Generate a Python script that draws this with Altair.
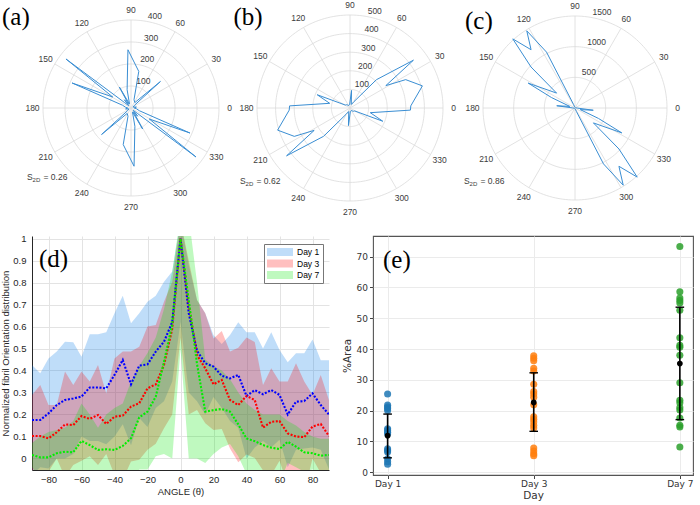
import json

import altair as alt
import pandas as pd

SANS = "Liberation Sans"
SERIF = "Liberation Serif"
MPL = "DejaVu Sans"
INK = "#262626"
POLAR_TXT = "#3c3c3c"
POLAR_GRID = "#dadada"
POLAR_LINE = "#3a8ed3"

# ---------------- (a)-(c): polar fibre-orientation histograms ----------------
# Orientations are axial, so each (theta, r) sample over half a turn is also
# drawn at theta + 180.
A_THETA = [0, 10, 25, 38, 42, 55, 70, 78, 93, 102, 110, 116, 119, 123, 129, 135, 140, 143, 149, 157, 162, 172]
A_R = [15, 25, 10, 20, 180, 30, 40, 170, 265, 85, 20, 40, 109, 20, 48, 15, 40, 370, 97, 291, 40, 25]
B_THETA = [2, 17, 27, 32, 37, 47, 58, 70, 85, 95, 115, 135, 148, 158, 167, 178]
B_R = [327, 407, 336, 227, 427, 208, 40, 20, 95, 20, 15, 25, 30, 190, 112, 325]
C_THETA = [0, 8, 30, 60, 90, 105, 112, 117, 122, 127, 132, 137, 141, 152, 156, 163, 173, 178]
C_R = [40, 15, 10, 10, 15, 20, 60, 1023, 1484, 1190, 1516, 980, 386, 864, 420, 90, 300, 40]
A_RINGS = [100, 200, 300, 400]
B_RINGS = [100, 200, 300, 400, 500]
C_RINGS = [500, 1000, 1500]
S2D_VALUES = [0.26, 0.62, 0.86]
ANGLE_TICKS = list(range(0, 360, 30))

# ---------------- (d): normalised orientation distribution ----------------
DAYS = ["Day 1", "Day 3", "Day 7"]
ANGLE = list(range(-90, 91, 5))
DAY1_MEAN = [0.175, 0.175, 0.205, 0.243, 0.266, 0.273, 0.281, 0.323, 0.323, 0.319,
             0.380, 0.448, 0.337, 0.422, 0.428, 0.486, 0.531, 0.620, 1.000,
             0.660, 0.490, 0.433, 0.418, 0.376, 0.364, 0.380, 0.284, 0.311, 0.292,
             0.311, 0.289, 0.200, 0.258, 0.261, 0.296, 0.243, 0.200]
DAY1_HIGH = [0.425, 0.387, 0.455, 0.486, 0.531, 0.528, 0.463, 0.565, 0.565, 0.574,
             0.660, 0.740, 0.615, 0.660, 0.713, 0.740, 0.804, 0.850, 1.080,
             0.880, 0.720, 0.660, 0.560, 0.520, 0.561, 0.619, 0.574, 0.574, 0.500,
             0.574, 0.493, 0.437, 0.478, 0.478, 0.541, 0.447, 0.447]
DAY1_LOW = [-0.075, -0.040, -0.045, 0.000, 0.000, 0.020, 0.100, 0.080, 0.080, 0.065,
            0.100, 0.156, 0.060, 0.184, 0.143, 0.230, 0.260, 0.350, 0.620,
            0.300, 0.260, 0.200, 0.280, 0.230, 0.170, 0.140, 0.000, 0.050, 0.080,
            0.050, 0.085, -0.040, 0.040, 0.045, 0.050, 0.040, -0.050]
DAY3_MEAN = [0.102, 0.102, 0.092, 0.119, 0.155, 0.152, 0.193, 0.180, 0.198, 0.157,
             0.190, 0.195, 0.236, 0.251, 0.319, 0.337, 0.425, 0.590, 1.000,
             0.700, 0.470, 0.410, 0.337, 0.357, 0.266, 0.243, 0.284, 0.266, 0.140,
             0.167, 0.170, 0.114, 0.100, 0.097, 0.145, 0.157, 0.102]
DAY3_HIGH = [0.289, 0.334, 0.243, 0.243, 0.395, 0.334, 0.395, 0.350, 0.425, 0.296,
             0.455, 0.486, 0.486, 0.508, 0.600, 0.607, 0.713, 0.804, 1.080,
             0.900, 0.720, 0.660, 0.546, 0.580, 0.486, 0.503, 0.550, 0.530, 0.334,
             0.410, 0.350, 0.350, 0.433, 0.350, 0.290, 0.380, 0.265]
DAY3_LOW = [-0.085, -0.130, -0.060, 0.000, -0.085, -0.030, -0.010, 0.010, -0.030, 0.020,
            -0.075, -0.096, -0.014, -0.006, 0.040, 0.067, 0.137, 0.200, 0.550,
            0.200, 0.220, 0.160, 0.130, 0.134, 0.046, -0.017, 0.018, 0.002, -0.054,
            -0.076, -0.010, -0.120, -0.233, -0.156, 0.000, -0.066, -0.061]
DAY7_MEAN = [0.016, 0.005, 0.005, 0.024, 0.031, 0.028, 0.080, 0.061, 0.039, 0.042,
             0.039, 0.057, 0.092, 0.187, 0.213, 0.281, 0.440, 0.610, 1.000,
             0.720, 0.430, 0.213, 0.220, 0.225, 0.213, 0.155, 0.091, 0.079, 0.061,
             0.049, 0.043, 0.076, 0.054, 0.028, 0.024, 0.013, 0.016]
DAY7_HIGH = [0.070, 0.100, 0.120, 0.130, 0.140, 0.170, 0.250, 0.200, 0.140, 0.200,
             0.230, 0.250, 0.350, 0.420, 0.480, 0.550, 0.680, 0.850, 1.100,
             1.100, 0.800, 0.450, 0.420, 0.400, 0.360, 0.300, 0.250, 0.220, 0.200,
             0.200, 0.200, 0.170, 0.150, 0.120, 0.100, 0.090, 0.090]
DAY7_LOW = [-0.040, -0.090, -0.110, -0.080, -0.080, -0.110, -0.090, -0.080, -0.060, -0.120,
            -0.150, -0.140, -0.170, -0.050, -0.050, 0.010, 0.020, 0.000, 0.500,
            0.000, 0.000, -0.020, 0.020, 0.050, 0.066, 0.010, -0.070, -0.060, -0.080,
            -0.100, -0.110, -0.020, -0.040, -0.060, -0.050, -0.060, -0.060]
D_XTICKS = [-80, -60, -40, -20, 0, 20, 40, 60, 80]
D_YTICKS = [0, 0.1, 0.2, 0.3, 0.4, 0.5, 0.6, 0.7, 0.8, 0.9, 1]
BAND_COLORS = ["#0078e6", "#ff0000", "#00e600"]
LINE_COLORS = ["#0000ff", "#ff0000", "#00ee00"]

# ---------------- (e): collagen %Area per day ----------------
AREA_DAY1 = [25.4, 21.8, 21.2, 20.7, 20.1, 14.1, 13.6, 13.0, 12.4, 7.6, 7.1, 6.6, 4.4, 3.4, 2.6]
AREA_DAY3 = [37.8, 37.0, 36.2, 33.8, 32.9, 28.6, 26.2, 25.4, 24.4, 21.9, 18.0, 17.2, 16.3,
             15.3, 14.4, 7.9, 6.9, 6.0, 5.4]
AREA_DAY7 = [73.3, 58.6, 56.6, 55.8, 55.0, 52.6, 43.7, 41.2, 40.6, 38.0, 29.1, 23.4, 22.6,
             21.0, 20.2, 17.6, 15.3, 14.7, 8.2]
AREA_MEAN = [11.9, 22.7, 35.3]
AREA_SD_LOW = [4.7, 13.3, 17.1]
AREA_SD_HIGH = [18.9, 32.3, 53.6]
E_YTICKS = [0, 10, 20, 30, 40, 50, 60, 70]
E_COLORS = ["#1f77b4", "#ff7f0e", "#2ca02c"]

# ---------------- layout (pixels) ----------------
LEFT = 32          # room taken by the y axis of panel (d)
TOP_H = 225        # height of the polar row
POLAR_CY = 108     # vertical centre of the polar plots
ROW_GAP = 8
D_W, D_H = 297, 234
E_W, E_H = 320, 239
BOTTOM_GAP = 12


def polar_panel(theta, r, rings, s2d, tag, x0, x1, cx, k, tag_at, s2d_at):
    """Polar line plot drawn on a cartesian x/y scale (k = pixels per unit r)."""
    w, h, cy = x1 - x0, TOP_H, POLAR_CY
    cxr = cx - x0
    xs = alt.Scale(domain=[-cxr / k, (w - cxr) / k], nice=False, zero=False)
    ys = alt.Scale(domain=[-(h - cy) / k, cy / k], nice=False, zero=False)

    def X(f):
        return alt.X(f, type="quantitative", scale=xs, axis=None)

    def Y(f):
        return alt.Y(f, type="quantitative", scale=ys, axis=None)

    rad = "PI/180"
    rmax = rings[-1]

    circles = (
        alt.Chart(alt.sequence(0, 362, 2, as_="t"))
        .transform_calculate(ring=json.dumps(rings))
        .transform_flatten(["ring"])
        .transform_calculate(px=f"datum.ring*cos(datum.t*{rad})",
                             py=f"datum.ring*sin(datum.t*{rad})")
        .mark_line(stroke=POLAR_GRID, strokeWidth=0.8)
        .encode(X("px"), Y("py"), detail="ring:N", order="t:Q")
    )

    spoke_df = pd.DataFrame({"deg": ANGLE_TICKS})
    spokes = (
        alt.Chart(spoke_df)
        .transform_calculate(o="0", px=f"{rmax}*cos(datum.deg*{rad})",
                             py=f"{rmax}*sin(datum.deg*{rad})")
        .mark_rule(stroke=POLAR_GRID, strokeWidth=0.8)
        .encode(x=X("o"), y=Y("o"), x2=alt.X2("px"), y2=alt.Y2("py"))
    )

    lab_r = rmax + 10.5 / k
    angle_labels = (
        alt.Chart(spoke_df)
        .transform_calculate(px=f"{lab_r}*cos(datum.deg*{rad})",
                             py=f"{lab_r}*sin(datum.deg*{rad})")
        .mark_text(font=SANS, fontSize=8.5, color=POLAR_TXT)
        .encode(X("px"), Y("py"), text="deg:N")
    )

    ring_labels = (
        alt.Chart(pd.DataFrame({"ring": rings}))
        .transform_calculate(px=f"datum.ring*cos(80*{rad})", py=f"datum.ring*sin(80*{rad})")
        .mark_text(font=SANS, fontSize=8.5, color=POLAR_TXT, align="left",
                   baseline="bottom", dx=1.5, dy=-0.5)
        .encode(X("px"), Y("py"), text="ring:N")
    )

    path = pd.DataFrame({
        "theta": theta + [t + 180 for t in theta] + [theta[0] + 360],
        "r": r + r + [r[0]],
    })
    path["step"] = range(len(path))
    curve = (
        alt.Chart(path)
        .transform_calculate(px=f"datum.r*cos(datum.theta*{rad})",
                             py=f"datum.r*sin(datum.theta*{rad})")
        .mark_line(color=POLAR_LINE, strokeWidth=1)
        .encode(X("px"), Y("py"), order="step:Q")
    )

    sx, sy = s2d_at[0] - x0, s2d_at[1]
    s_df = pd.DataFrame({"s": ["S"], "sub": ["2D"], "val": [f"= {s2d:.2f}"]})
    s_main = alt.Chart(s_df).mark_text(font=SANS, fontSize=8.5, color=POLAR_TXT, align="left").encode(
        x=alt.value(sx), y=alt.value(sy), text="s:N")
    s_sub = alt.Chart(s_df).mark_text(font=SANS, fontSize=6, color=POLAR_TXT, align="left").encode(
        x=alt.value(sx + 5.6), y=alt.value(sy + 3), text="sub:N")
    s_val = alt.Chart(s_df).mark_text(font=SANS, fontSize=8.5, color=POLAR_TXT, align="left").encode(
        x=alt.value(sx + 16.5), y=alt.value(sy), text="val:N")

    tag_mark = alt.Chart(pd.DataFrame({"tag": [tag]})).mark_text(
        font=SERIF, fontSize=25, color="black", align="left", baseline="alphabetic"
    ).encode(x=alt.value(tag_at[0] - x0), y=alt.value(tag_at[1]), text="tag:N")

    return alt.layer(circles, spokes, angle_labels, ring_labels, curve,
                     s_main, s_sub, s_val, tag_mark).properties(width=w, height=h)


panel_a = polar_panel(A_THETA, A_R, A_RINGS, S2D_VALUES[0], "(a)", LEFT, 232, 131, 88 / 400,
                      (2, 24.5), (27, 177))
panel_b = polar_panel(B_THETA, B_R, B_RINGS, S2D_VALUES[1], "(b)", 232, 460, 350, 93 / 500,
                      (233.5, 25), (240, 181))
panel_c = polar_panel(C_THETA, C_R, C_RINGS, S2D_VALUES[2], "(c)", 460, 700, 575, 92 / 1500,
                      (465, 28.5), (464, 181))

# ---------------- panel (d) ----------------
d_df = pd.DataFrame({
    "angle": ANGLE * 3,
    "day": [d for d in DAYS for _ in ANGLE],
    "mean": DAY1_MEAN + DAY3_MEAN + DAY7_MEAN,
    "low": DAY1_LOW + DAY3_LOW + DAY7_LOW,
    "high": DAY1_HIGH + DAY3_HIGH + DAY7_HIGH,
})
d_x_scale = alt.Scale(domain=[-90, 90], nice=False, zero=False)
d_y_scale = alt.Scale(domain=[-0.0523, 1.0114], nice=False, zero=False)
d_x_axis = alt.Axis(values=D_XTICKS, grid=True, gridColor="#e3e3e3", ticks=False, tickSize=0,
                    labelFont=SANS, labelFontSize=9.5, labelColor=INK, labelPadding=4,
                    domainColor=INK, title="ANGLE (θ)", titleFont=SANS, titleFontSize=9.5,
                    titleFontWeight="normal", titleColor=INK, titlePadding=3)
d_y_axis = alt.Axis(values=D_YTICKS, format="~g", grid=True, gridColor="#e3e3e3", ticks=False,
                    tickSize=0, labelFont=SANS, labelFontSize=9.5, labelColor=INK,
                    labelPadding=6, domainColor=INK,
                    title="Normalized fibril Orientation distribution", titleFont=SANS,
                    titleFontSize=9.5, titleFontWeight="normal", titleColor=INK, titlePadding=2)
# the legend is placed in the coordinates of the whole figure; wide rectangular
# swatches are drawn from a small symbol size so that the rows stay tight
d_legend = alt.Legend(title=None, orient="none", legendX=232, legendY=244,
                      symbolType="M-2.6,-0.8H2.6V0.8H-2.6Z", symbolSize=100,
                      symbolOffset=8, symbolOpacity=0.25, symbolStrokeWidth=0,
                      labelFont=SANS, labelFontSize=8.5, labelColor="black", labelOffset=12,
                      strokeColor="#777777", fillColor="white", padding=3, rowPadding=1.5)

d_bands = alt.Chart(d_df).mark_area(opacity=0.25, clip=True).encode(
    x=alt.X("angle:Q", scale=d_x_scale, axis=d_x_axis),
    y=alt.Y("low:Q", scale=d_y_scale, axis=d_y_axis),
    y2="high:Q",
    fill=alt.Fill("day:N", scale=alt.Scale(domain=DAYS, range=BAND_COLORS), legend=d_legend),
)
d_lines = alt.Chart(d_df).mark_line(clip=True, strokeWidth=2.1, strokeDash=[2, 1.6]).encode(
    x=alt.X("angle:Q", scale=d_x_scale, axis=d_x_axis),
    y=alt.Y("mean:Q", scale=d_y_scale, axis=d_y_axis),
    stroke=alt.Stroke("day:N", scale=alt.Scale(domain=DAYS, range=LINE_COLORS), legend=None),
)
d_tag = alt.Chart(pd.DataFrame({"tag": ["(d)"]})).mark_text(
    font=SERIF, fontSize=25, color="black", align="left", baseline="alphabetic"
).encode(x=alt.value(7), y=alt.value(31), text="tag:N")
panel_d = alt.layer(d_bands, d_lines, d_tag).properties(width=D_W, height=D_H)

# ---------------- panel (e) ----------------
e_pts = pd.DataFrame({
    "day_idx": [0] * len(AREA_DAY1) + [1] * len(AREA_DAY3) + [2] * len(AREA_DAY7),
    "day": [DAYS[0]] * len(AREA_DAY1) + [DAYS[1]] * len(AREA_DAY3) + [DAYS[2]] * len(AREA_DAY7),
    "area": AREA_DAY1 + AREA_DAY3 + AREA_DAY7,
})
e_stats = pd.DataFrame({"day_idx": [0, 1, 2], "mean": AREA_MEAN,
                        "low": AREA_SD_LOW, "high": AREA_SD_HIGH})
e_x_scale = alt.Scale(domain=[-0.1, 2.09], nice=False, zero=False)
e_y_scale = alt.Scale(domain=[-0.88, 76.72], nice=False, zero=False)
e_x_axis = alt.Axis(values=[0, 1, 2], labelExpr=f"{json.dumps(DAYS)}[datum.value]",
                    grid=True, gridColor="#ebebeb", domain=False, ticks=True, tickSize=3.5,
                    tickColor="#444444", labelFont=MPL, labelFontSize=9, labelColor="#333333",
                    labelPadding=1, title="Day", titleFont=MPL, titleFontSize=10.5,
                    titleFontWeight="normal", titleColor="#333333", titlePadding=2)
e_y_axis = alt.Axis(values=E_YTICKS, grid=True, gridColor="#ebebeb", domain=False, ticks=True,
                    tickSize=3.5, tickColor="#444444", labelFont=MPL, labelFontSize=9,
                    labelColor="#333333", labelPadding=2, title="%Area", titleFont=MPL,
                    titleFontSize=10.5, titleFontWeight="normal", titleColor="#333333",
                    titlePadding=4)

e_points = alt.Chart(e_pts).mark_circle(size=50, opacity=0.85).encode(
    x=alt.X("day_idx:Q", scale=e_x_scale, axis=e_x_axis),
    y=alt.Y("area:Q", scale=e_y_scale, axis=e_y_axis),
    color=alt.Color("day:N", scale=alt.Scale(domain=DAYS, range=E_COLORS), legend=None),
)
e_bars = alt.Chart(e_stats).mark_rule(color="black", strokeWidth=1.6).encode(
    x=alt.X("day_idx:Q", scale=e_x_scale, axis=e_x_axis),
    y=alt.Y("low:Q", scale=e_y_scale, axis=e_y_axis),
    y2="high:Q",
)
e_caps = alt.Chart(e_stats).transform_fold(["low", "high"], as_=["end", "val"]).mark_rule(
    color="black", strokeWidth=1.4, xOffset=-4.3, x2Offset=4.3
).encode(
    x=alt.X("day_idx:Q", scale=e_x_scale, axis=e_x_axis),
    x2=alt.X2("day_idx"),
    y=alt.Y("val:Q", scale=e_y_scale, axis=e_y_axis),
)
e_means = alt.Chart(e_stats).mark_circle(size=32, color="black", opacity=1).encode(
    x=alt.X("day_idx:Q", scale=e_x_scale, axis=e_x_axis),
    y=alt.Y("mean:Q", scale=e_y_scale, axis=e_y_axis),
)
e_tag = alt.Chart(pd.DataFrame({"tag": ["(e)"]})).mark_text(
    font=SERIF, fontSize=25, color="black", align="left", baseline="alphabetic"
).encode(x=alt.value(10), y=alt.value(32), text="tag:N")
panel_e = alt.layer(e_points, e_bars, e_caps, e_means, e_tag).properties(
    width=E_W, height=E_H, view=alt.ViewBackground(stroke="#555555", strokeWidth=1.1)
)

top_row = alt.hconcat(panel_a, panel_b, panel_c, spacing=0)
bottom_row = alt.hconcat(panel_d, panel_e, spacing=BOTTOM_GAP)

chart = (
    alt.vconcat(top_row, bottom_row, spacing=ROW_GAP)
    .properties(padding=0, background="white")
    .configure_view(stroke=None)
)

chart.save("out.html", embed_options={"renderer": "svg", "actions": False})
